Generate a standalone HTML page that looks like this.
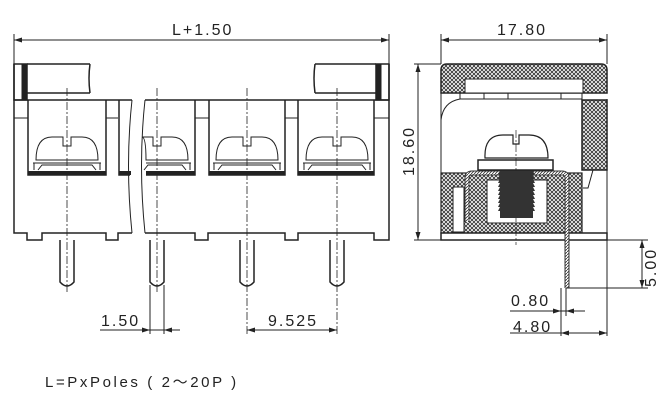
<!DOCTYPE html>
<html><head><meta charset="utf-8"><style>
html,body{margin:0;padding:0;background:#fff;width:659px;height:420px;overflow:hidden}
svg{display:block}
text{font-family:"Liberation Sans",sans-serif;fill:#222}
</style></head><body>
<svg width="659" height="420" viewBox="0 0 659 420" xmlns="http://www.w3.org/2000/svg">
<defs>
<pattern id="x" width="4" height="4" patternUnits="userSpaceOnUse">
<rect width="4" height="4" fill="#fff"/><path d="M0 0L4 4M4 0L0 4" stroke="#333" stroke-width="0.9"/></pattern>
<pattern id="h" width="3" height="3" patternUnits="userSpaceOnUse">
<rect width="3" height="3" fill="#fff"/><path d="M0 3L3 0" stroke="#333" stroke-width="0.8"/></pattern>
</defs>
<g stroke="#222" fill="none" stroke-width="1">
<line x1="14" y1="40" x2="389" y2="40"/>
<line x1="14" y1="34" x2="14" y2="64"/><line x1="389" y1="34" x2="389" y2="64"/>
<rect x="14" y="64" width="13" height="36" stroke-width="1.5"/>
<rect x="22" y="64" width="5" height="36" fill="#222"/>
<rect x="376" y="64" width="13" height="36" stroke-width="1.5"/>
<rect x="376" y="64" width="5" height="36" fill="#222"/>
<path d="M27 64H90M27 93H90M90 64Q88 78 90 93" stroke-width="1.5"/>
<path d="M376 64H315M376 93H315M315 64Q313 78 315 93" stroke-width="1.5"/>
<path d="M14 100H132M145 100H389" stroke-width="1.5"/>
<path d="M14 64V233H27V240H42V233H106V240H118V233H132" stroke-width="1.5"/>
<path d="M145 233H195V240H208V233H285V240H298V233H374V240H389V64" stroke-width="1.5"/>
<path d="M132 100Q125 165 132 233M145 100Q138 165 145 233"/>
<path d="M106 118H118M285 118H298M195 118H209M14 118H28M374 118H389"/>
<g stroke-width="1.5">
<path d="M28 100V175H106V100"/><path d="M119 100V175H130M146 175H195V100"/>
<path d="M209 100V175H285V100"/><path d="M298 100V175H374V100"/>
</g>
<g fill="#222" stroke="none">
<rect x="28" y="171" width="78" height="4"/><rect x="119" y="171" width="12" height="4"/><rect x="146" y="171" width="49" height="4"/>
<rect x="209" y="171" width="76" height="4"/><rect x="298" y="171" width="76" height="4"/>
</g>
<g id="sc">
<path d="M36 160Q36 137 52 137H63V146H71V137H82Q98 137 98 160Z"/>
<path d="M33 163H101M34 163V170M100 163V170M38 170L42 165H92L96 170"/>
</g>
<use href="#sc" x="180"/><use href="#sc" x="270"/>
<path d="M146 160Q146 137 142 137H153V146H161V137H172Q188 137 188 160ZM146 163H191M190 163V170M144 170L148 165H182L186 170"/>
<g stroke-width="1.5">
<path d="M60 240V282Q67 290 74 282V240"/><path d="M150 240V282Q157 290 164 282V240"/>
<path d="M240 240V282Q247 290 254 282V240"/><path d="M330 240V282Q337 290 344 282V240"/>
</g>
<g stroke-dasharray="8,2,2,2" stroke-width="0.8">
<line x1="67" y1="88" x2="67" y2="292"/><line x1="157" y1="88" x2="157" y2="292"/>
<line x1="247" y1="88" x2="247" y2="334"/><line x1="337" y1="88" x2="337" y2="334"/>
</g>
<line x1="150" y1="285" x2="150" y2="334"/><line x1="164" y1="285" x2="164" y2="334"/>
<line x1="100" y1="330" x2="180" y2="330"/>
<line x1="247" y1="330" x2="337" y2="330"/>
<line x1="441" y1="40" x2="607" y2="40"/>
<line x1="441" y1="34" x2="441" y2="64"/><line x1="607" y1="34" x2="607" y2="64"/>
<line x1="418" y1="64" x2="418" y2="240"/>
<line x1="414" y1="64" x2="441" y2="64"/><line x1="414" y1="240" x2="441" y2="240"/>
<path d="M441 70Q441 64 447 64H601Q607 64 607 70V93H441Z" fill="url(#x)" stroke-width="1.5"/>
<rect x="465" y="79" width="118" height="14" fill="#fff"/>
<path d="M460 93V99H582V93M484 93V99M508 93V99M561 93V99"/>
<path d="M441 93V240H607V99"/>
<path d="M441 120Q443 102 460 99"/>
<rect x="582" y="100" width="25" height="70" fill="url(#x)" stroke-width="1.5"/>
<path d="M583 170H593L588 188H583"/>
<rect x="441" y="173" width="141" height="60" fill="url(#x)" stroke-width="1.2"/>
<rect x="453" y="187" width="11" height="45" fill="#fff"/>
<rect x="487" y="180" width="60" height="43" fill="#fff"/>
<rect x="441" y="233" width="166" height="7" fill="#fff" stroke-width="1.5"/>
<path d="M467 222V178Q467 173 472 173H562Q567 173 567 178V288" stroke-width="5" stroke="#333"/>
<path d="M467 222V178Q467 173 472 173H562Q567 173 567 178V288" stroke-width="3" stroke="url(#h)"/>
<rect x="478" y="160" width="75" height="10" fill="#fff" stroke-width="1.5"/>
<path d="M485 158Q484 135 503 135H513V144H519V135H529Q548 135 548 158Z" fill="#fff" stroke-width="1.2"/>
<line x1="516" y1="130" x2="516" y2="245" stroke-dasharray="8,2,2,2" stroke-width="0.7"/>
<path d="M500 171h33l2 4h-2l2 4h-2l2 4h-2l2 4h-2l2 4h-2l2 4h-2l2 4h-2l2 4h-2l2 4h-2l2 4h-2v7h-33v-7h-2l2-4h-2l2-4h-2l2-4h-2l2-4h-2l2-4h-2l2-4h-2l2-4h-2l2-4h-2l2-4h-2l2-4z" fill="#333" stroke="none"/>
<line x1="607" y1="240" x2="648" y2="240"/><line x1="566" y1="288" x2="648" y2="288"/>
<line x1="642" y1="240" x2="642" y2="288"/>
<line x1="561" y1="288" x2="561" y2="336"/><line x1="566" y1="288" x2="566" y2="316"/>
<line x1="607" y1="240" x2="607" y2="336"/>
<line x1="510" y1="311" x2="585" y2="311"/>
<line x1="510" y1="333" x2="607" y2="333"/>
</g>
<g fill="#222">
<path d="M14 40l8-2.5v5zM389 40l-8-2.5v5z"/>
<path d="M441 40l8-2.5v5zM607 40l-8-2.5v5z"/>
<path d="M418 64l-2.5 8h5zM418 240l-2.5-8h5z"/>
<path d="M642 240l-2.5 8h5zM642 288l-2.5-8h5z"/>
<path d="M150 330l-8-2.5v5zM164 330l8-2.5v5z"/>
<path d="M247 330l8-2.5v5zM337 330l-8-2.5v5z"/>
<path d="M561 311l-8-2.5v5zM566 311l8-2.5v5z"/>
<path d="M561 333l8-2.5v5zM607 333l-8-2.5v5z"/>
</g>
<g font-size="16" letter-spacing="2">
<text x="172" y="35">L+1.50</text>
<text x="497" y="35">17.80</text>
<text x="414" y="176" transform="rotate(-90 414 176)">18.60</text>
<text x="656" y="287" transform="rotate(-90 656 287)">5.00</text>
<text x="101" y="326">1.50</text>
<text x="268" y="326">9.525</text>
<text x="511" y="306">0.80</text>
<text x="513" y="332">4.80</text>
<text x="45" y="387" font-size="15" letter-spacing="2.6">L=PxPoles ( 2～20P )</text>
</g>
</svg>
</body></html>
